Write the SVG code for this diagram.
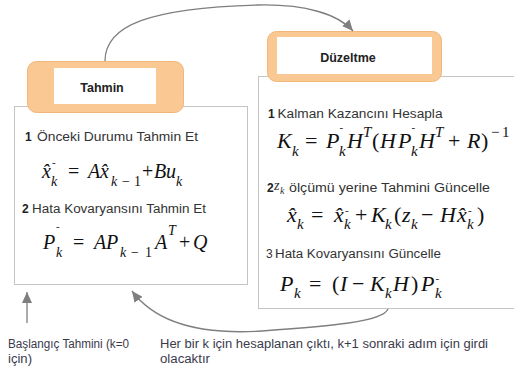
<svg xmlns="http://www.w3.org/2000/svg" width="514" height="371" viewBox="0 0 514 371">
<style>
.box{fill:#fff;stroke:#c4c4c4;stroke-width:1}
.tab{fill:#f9c893;stroke:#f1b77a;stroke-width:1}
.tabin{fill:#fff}
.title{font-family:"Liberation Sans",Arial,sans-serif;font-weight:bold;font-size:12.5px;fill:#222;text-anchor:middle}
.lbl{font-family:"Liberation Sans",Arial,sans-serif;font-size:12px;fill:#333}
.num{font-family:"Liberation Sans",Arial,sans-serif;font-size:12px;fill:#222;font-weight:bold}
.note{font-family:"Liberation Sans",Arial,sans-serif;font-size:12px;fill:#3a3a4c}
.eq{font-family:"Liberation Serif","Times New Roman",serif;font-size:20px;fill:#111}
.big{font-size:22px}
.mi{font-style:italic}
.si{font-style:italic;font-size:14px}
.sr{font-size:14px}
.big .si,.big .sr{font-size:15px}
.dash{font-size:11px}
.conn{fill:none;stroke:#7f7f7f;stroke-width:1.3}
</style>
<defs>
<marker id="ah" markerUnits="userSpaceOnUse" markerWidth="12" markerHeight="10" refX="11" refY="5" orient="auto">
<path d="M0,0 L11,5 L0,10 z" fill="#7f7f7f"/>
</marker>
</defs>
<rect width="514" height="371" fill="#fff"/>

<g id="node-tahmin">
<rect class="box" x="14.5" y="106.5" width="233" height="178"/>
<rect class="tab" x="27.5" y="61.5" width="156" height="51" rx="9"/>
<rect class="tabin" x="54" y="68" width="102" height="36"/>
<text class="title" x="102" y="92">Tahmin</text>
<text class="lbl" x="25" y="141"><tspan class="num">1</tspan><tspan x="37" textLength="161" lengthAdjust="spacingAndGlyphs">Önceki Durumu Tahmin Et</tspan></text>
<text id="eq1" class="eq"><tspan class="mi" x="42" y="178">x̂</tspan><tspan class="dash" x="52" y="166">-</tspan><tspan class="si" x="51" y="186">k</tspan><tspan x="68" y="178">=</tspan><tspan class="mi" x="88" y="178">A</tspan><tspan class="mi" x="100" y="178">x̂</tspan><tspan class="si" x="111" y="186">k</tspan><tspan class="sr" x="122" y="186">−</tspan><tspan class="sr" x="134" y="186">1</tspan><tspan x="142" y="178">+</tspan><tspan class="mi" x="154" y="178">B</tspan><tspan class="mi" x="166" y="178">u</tspan><tspan class="si" x="176" y="186">k</tspan></text>
<text class="lbl" x="22" y="213"><tspan class="num">2</tspan><tspan x="32" textLength="174" lengthAdjust="spacingAndGlyphs">Hata Kovaryansını Tahmin Et</tspan></text>
<text id="eq2" class="eq"><tspan class="mi" x="43" y="249">P</tspan><tspan class="dash" x="56" y="230">-</tspan><tspan class="si" x="56" y="257">k</tspan><tspan x="73" y="249">=</tspan><tspan class="mi" x="94" y="249">A</tspan><tspan class="mi" x="106" y="249">P</tspan><tspan class="si" x="120" y="257">k</tspan><tspan class="sr" x="131" y="257">−</tspan><tspan class="sr" x="145" y="257">1</tspan><tspan class="mi" x="155" y="249">A</tspan><tspan class="si" x="168" y="235">T</tspan><tspan x="179" y="249">+</tspan><tspan class="mi" x="193" y="249">Q</tspan></text>
</g>

<g id="node-duzeltme">
<rect class="box" x="258.5" y="76.5" width="270" height="232"/>
<rect class="tab" x="267.5" y="31.5" width="174" height="50" rx="9"/>
<rect class="tabin" x="277" y="37" width="155" height="37"/>
<text class="title" x="348" y="62">Düzeltme</text>
<text class="lbl" x="268" y="118"><tspan class="num">1</tspan><tspan x="277.5" textLength="165" lengthAdjust="spacingAndGlyphs">Kalman Kazancını Hesapla</tspan></text>
<text id="eq3" class="eq big"><tspan class="mi" x="277" y="148">K</tspan><tspan class="si" x="292" y="156">k</tspan><tspan x="305" y="148">=</tspan><tspan class="mi" x="326" y="148">P</tspan><tspan class="dash" x="339.5" y="131">-</tspan><tspan class="si" x="339" y="156">k</tspan><tspan class="mi" x="347" y="148">H</tspan><tspan class="si" x="363" y="137">T</tspan><tspan x="372" y="148">(</tspan><tspan class="mi" x="380" y="148">H</tspan><tspan class="mi" x="398" y="148">P</tspan><tspan class="dash" x="411.5" y="131">-</tspan><tspan class="si" x="411" y="156">k</tspan><tspan class="mi" x="419" y="148">H</tspan><tspan class="si" x="435" y="137">T</tspan><tspan x="448" y="148">+</tspan><tspan class="mi" x="467" y="148">R</tspan><tspan x="481" y="148">)</tspan><tspan class="sr" x="491" y="137">−</tspan><tspan class="sr" x="502" y="137">1</tspan></text>
<text class="lbl" x="267" y="192"><tspan class="num">2</tspan><tspan x="274" y="190" style="font-family:'Liberation Serif',serif;font-style:italic;font-size:14px">z</tspan><tspan x="280" y="194" style="font-family:'Liberation Serif',serif;font-style:italic;font-size:10px">k</tspan><tspan x="289" y="192" textLength="201" lengthAdjust="spacingAndGlyphs">ölçümü yerine Tahmini Güncelle</tspan></text>
<text id="eq4" class="eq big"><tspan class="mi" x="287" y="222">x̂</tspan><tspan class="si" x="297" y="229">k</tspan><tspan x="311" y="222">=</tspan><tspan class="mi" x="334" y="222">x̂</tspan><tspan class="dash" x="345" y="214">-</tspan><tspan class="si" x="344" y="229">k</tspan><tspan x="355" y="222">+</tspan><tspan class="mi" x="371" y="222">K</tspan><tspan class="si" x="385" y="229">k</tspan><tspan x="394" y="222">(</tspan><tspan class="mi" x="402" y="222">z</tspan><tspan class="si" x="411" y="229">k</tspan><tspan x="421" y="222">−</tspan><tspan class="mi" x="440" y="222">H</tspan><tspan class="mi" x="457" y="222">x̂</tspan><tspan class="dash" x="468" y="214">-</tspan><tspan class="si" x="467" y="229">k</tspan><tspan x="477" y="222">)</tspan></text>
<text class="lbl" x="266" y="258">3<tspan x="275" textLength="166" lengthAdjust="spacingAndGlyphs">Hata Kovaryansını Güncelle</tspan></text>
<text id="eq5" class="eq big"><tspan class="mi" x="280" y="291">P</tspan><tspan class="si" x="294" y="298">k</tspan><tspan x="309" y="291">=</tspan><tspan x="332" y="291">(</tspan><tspan class="mi" x="340" y="291">I</tspan><tspan x="352" y="291">−</tspan><tspan class="mi" x="370" y="291">K</tspan><tspan class="si" x="385" y="298">k</tspan><tspan class="mi" x="393" y="291">H</tspan><tspan x="411" y="291">)</tspan><tspan class="mi" x="421" y="291">P</tspan><tspan class="dash" x="435.5" y="282">-</tspan><tspan class="si" x="435" y="298">k</tspan></text>
</g>

<g id="connectors">
<path class="conn" d="M105,61 C105,25 150,8 258,5 C305,4 338,14 353,31" marker-end="url(#ah)"/>
<path class="conn" d="M388,309 C383,322 330,326 262,331 C200,335 155,322 132,291" marker-end="url(#ah)"/>
<path class="conn" d="M27,323 L27,292" marker-end="url(#ah)"/>
</g>

<g id="notes">
<text class="note" x="8" y="348" textLength="121" lengthAdjust="spacingAndGlyphs">Başlangıç Tahmini (k=0</text>
<text class="note" x="8" y="363" textLength="24" lengthAdjust="spacingAndGlyphs">için)</text>
<text class="note" x="160" y="348" textLength="328" lengthAdjust="spacingAndGlyphs">Her bir k için hesaplanan çıktı, k+1 sonraki adım için girdi</text>
<text class="note" x="160" y="363" textLength="50" lengthAdjust="spacingAndGlyphs">olacaktır</text>
</g>
</svg>
